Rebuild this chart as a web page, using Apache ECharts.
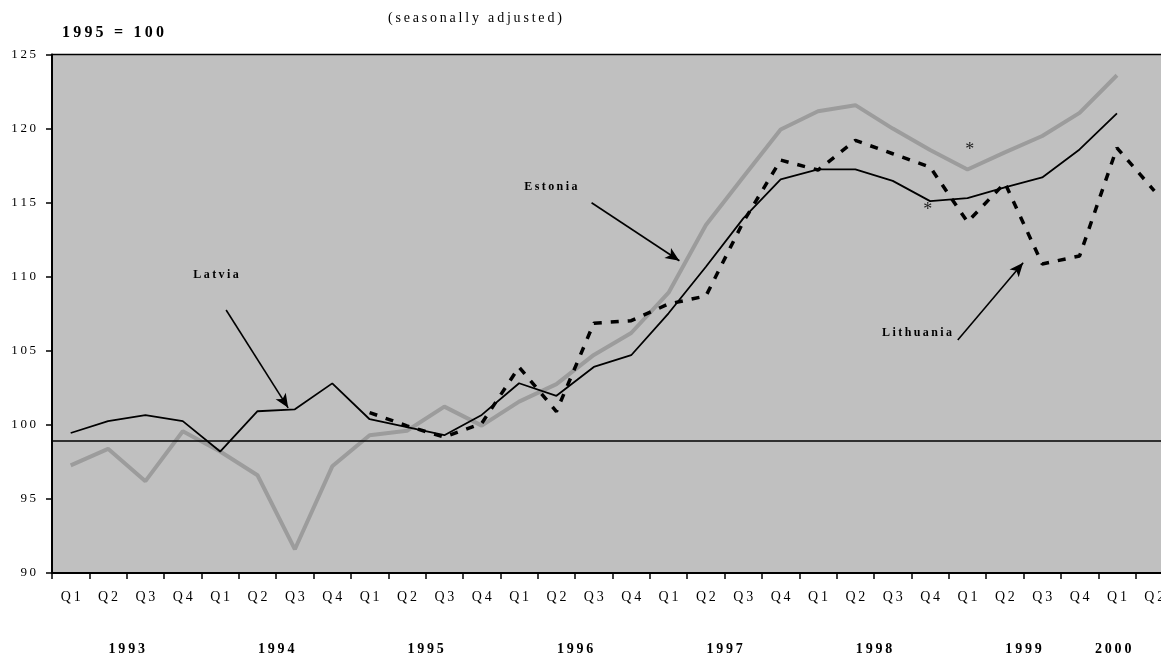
<!DOCTYPE html>
<html>
<head>
<meta charset="utf-8">
<script src="https://cdn.jsdelivr.net/npm/echarts@6/dist/echarts.min.js"></script>
<style>
html,body{margin:0;padding:0;background:#fff;}
#chart{width:1161px;height:657px;}
</style>
</head>
<body>
<div id="chart"></div>
<script>
// ---- data ----
var quarters = ['Q1','Q2','Q3','Q4','Q1','Q2','Q3','Q4','Q1','Q2','Q3','Q4','Q1','Q2','Q3','Q4',
                'Q1','Q2','Q3','Q4','Q1','Q2','Q3','Q4','Q1','Q2','Q3','Q4','Q1','Q2'];
var years = ['1993','1994','1995','1996','1997','1998','1999','2000'];
var quartersPerYear = [4,4,4,4,4,4,4,2];
var yTicks = [90,95,100,105,110,115,120,125];

var estonia = [97.26,98.38,96.2,99.57,98.2,96.6,91.6,97.2,99.3,99.6,101.23,99.95,101.57,102.75,104.72,106.2,
               108.92,113.49,116.73,119.94,121.17,121.58,120.0,118.55,117.24,118.39,119.5,121.06,123.6,null];
var latvia = [99.45,100.25,100.65,100.25,98.2,100.92,101.05,102.8,100.38,99.85,99.3,100.67,102.81,101.96,103.91,104.7,
              107.53,110.67,113.94,116.57,117.24,117.24,116.47,115.1,115.3,116.03,116.7,118.59,121.02,null];
var lithuania = [null,null,null,null,null,null,null,null,100.83,99.93,99.17,100.1,103.9,100.9,106.86,107.03,
                 108.16,108.7,113.7,117.87,117.2,119.2,118.3,117.4,113.7,116.33,110.86,111.4,118.7,115.8];
var baseLine = 98.9;

// annotation texts and arrows in data space (x in quarters from start, y in index units)
var labelNames = ['Latvia','Estonia','Lithuania'];
var labelX = [4.39, 13.35, 23.15];
var labelY = [110.1, 116.06, 106.21];
var arrowFrom = [[4.66,107.75],[14.44,114.99],[24.24,105.73]];
var arrowTo = [[6.32,101.15],[16.79,111.08],[25.99,110.94]];
var asteriskX = [24.56, 23.44];
var asteriskY = [118.54, 114.5];

// ---- helpers ----
function spaced(s){ return String(s).split('').join('\u2009'); }
var yearCenters = [];
(function(){
  var start = 0;
  for (var i=0;i<years.length;i++){
    var n = quartersPerYear[i];
    yearCenters.push(n === 4 ? start + n/2 : start + n*0.2);
    start += n;
  }
})();
var totalQ = quarters.length;

var serif = '"Liberation Serif", "DejaVu Serif", serif';

var chart = echarts.init(document.getElementById('chart'));
var annoLabels = labelNames.map(function(t,i){
  return {coord:[labelX[i],labelY[i]], value:t,
    label:{formatter: spaced(t)}};
});
var asterisks = asteriskX.map(function(x,i){
  return {coord:[x,asteriskY[i]], value:'*',
    label:{formatter:'*', fontSize:18, fontWeight:'normal', color:'#222'}};
});
var arrows = arrowFrom.map(function(f,i){
  return [{coord:f},{coord:arrowTo[i]}];
});

chart.setOption({
  animation:false,
  backgroundColor:'#ffffff',
  title:[
    {text: spaced('1995 = 100'), left:57, top:20,
     textStyle:{fontFamily:serif, fontSize:16, fontWeight:'bold', color:'#000'}},
    {text: spaced('(seasonally adjusted)'), left:383, top:6,
     textStyle:{fontFamily:serif, fontSize:14, fontWeight:'normal', color:'#000'}}
  ],
  grid:{left:52, top:54.5, right:-12, bottom:84, show:true,
        backgroundColor:'#c0c0c0', borderColor:'#000', borderWidth:1.5,
        outerBoundsMode:'none', containLabel:false},
  xAxis:[
    {type:'category', data:quarters, boundaryGap:true, position:'bottom',
     axisLine:{show:true, lineStyle:{color:'#000', width:2}},
     axisTick:{show:true, inside:false, length:6, lineStyle:{color:'#000', width:1.5}, interval:0},
     axisLabel:{interval:0, margin:17, color:'#000', fontFamily:serif, fontSize:14,
       formatter:function(v){return spaced(v);}},
     splitLine:{show:false}},
    {type:'value', min:0, max:totalQ, position:'bottom', offset:61,
     axisLine:{show:false}, axisTick:{show:false}, splitLine:{show:false},
     axisLabel:{customValues:yearCenters, margin:8, color:'#000', fontFamily:serif, fontSize:14, fontWeight:'bold',
       formatter:function(v){
         for (var i=0;i<yearCenters.length;i++){ if (Math.abs(yearCenters[i]-v)<1e-6) return spaced(years[i]); }
         return '';
       }}}
  ],
  yAxis:{type:'value', min:yTicks[0], max:yTicks[yTicks.length-1], interval:yTicks[1]-yTicks[0],
    axisLine:{show:true, lineStyle:{color:'#000', width:2}},
    axisTick:{show:true, inside:false, length:6, lineStyle:{color:'#000', width:1.5}},
    axisLabel:{margin:16, color:'#000', fontFamily:serif, fontSize:13, fontWeight:'normal',
      formatter:function(v){return spaced(v);}},
    splitLine:{show:false}},
  series:[
    {name:'Estonia', type:'line', data:estonia, showSymbol:false, symbol:'none',
     lineStyle:{color:'#9c9c9c', width:4}, z:2},
    {name:'Latvia', type:'line', data:latvia, showSymbol:false, symbol:'none',
     lineStyle:{color:'#000', width:1.8}, z:3,
     markLine:{silent:true, symbol:['none','none'], label:{show:false},
       lineStyle:{color:'#000', width:1.5, type:'solid'},
       data:[{yAxis:baseLine}]}},
    {name:'Lithuania', type:'line', data:lithuania, showSymbol:false, symbol:'none', connectNulls:false,
     lineStyle:{color:'#000', width:3.5, type:[8,9]}, z:4},
    {name:'annotations', type:'line', xAxisIndex:1, yAxisIndex:0, data:[], z:5,
     markLine:{silent:true, symbol:['none','arrow'], symbolSize:[9,14], label:{show:false},
       lineStyle:{color:'#000', width:1.6, type:'solid'}, data:arrows},
     markPoint:{silent:true, symbol:'rect', symbolSize:1, itemStyle:{color:'rgba(0,0,0,0)'},
       label:{show:true, position:'inside', color:'#000', fontFamily:serif, fontSize:12, fontWeight:'bold'},
       data: annoLabels.concat(asterisks)}}
  ]
});
</script>
</body>
</html>
